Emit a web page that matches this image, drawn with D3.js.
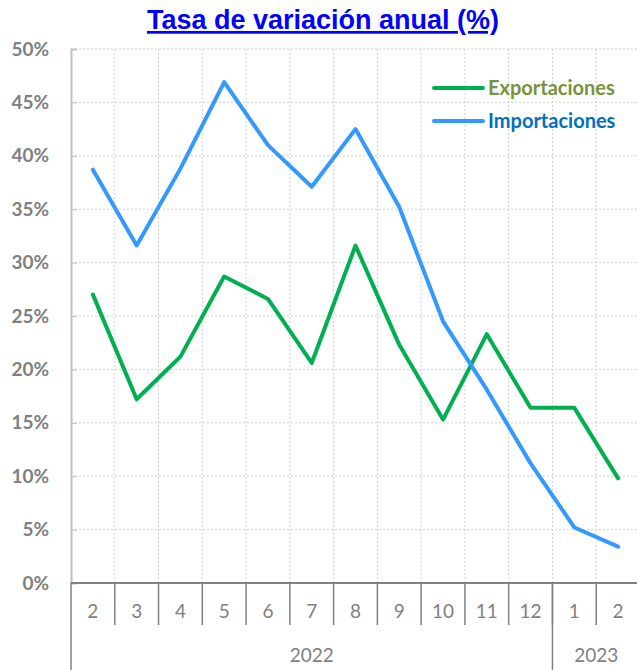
<!DOCTYPE html>
<html>
<head>
<meta charset="utf-8">
<script src="https://cdn.jsdelivr.net/npm/d3@7"></script>
<style>
  body { margin: 0; background: #fff; }
  svg { display: block; }
</style>
</head>
<body>
<div id="chart"></div>
<script>
// data
const months = ['2', '3', '4', '5', '6', '7', '8', '9', '10', '11', '12', '1', '2'];
const years = [{label: '2022', from: 0, to: 11}, {label: '2023', from: 11, to: 13}];
const exportaciones = [27.0, 17.2, 21.2, 28.7, 26.6, 20.6, 31.6, 22.3, 15.3, 23.3, 16.4, 16.4, 9.8];
const importaciones = [38.7, 31.6, 38.8, 46.9, 41.0, 37.1, 42.5, 35.2, 24.5, 18.1, 11.2, 5.2, 3.4];
const yTicks = [0, 5, 10, 15, 20, 25, 30, 35, 40, 45, 50];

const W = 637, H = 670;
const margin = {top: 49, right: -3, bottom: 87, left: 71};
const width = W - margin.left - margin.right,
      height = H - margin.top - margin.bottom;

const svg = d3.select('#chart').append('svg')
    .attr('width', W).attr('height', H);

const g = svg.append('g')
    .attr('transform', 'translate(' + margin.left + ',' + margin.top + ')');

const idx = d3.range(months.length);
const xScale = d3.scaleBand().domain(idx).range([0, width]).padding(0);
const yScale = d3.scaleLinear().domain([0, 50]).range([height, 0]);

// horizontal grid
g.selectAll('.hgrid').data(yTicks.slice(1)).join('line')
    .attr('x1', 0).attr('x2', width)
    .attr('y1', d => yScale(d)).attr('y2', d => yScale(d))
    .attr('stroke', '#d0d0d0').attr('stroke-dasharray', '2,2');

// vertical grid at band edges
g.selectAll('.vgrid').data(idx.slice(1)).join('line')
    .attr('x1', d => xScale(d)).attr('x2', d => xScale(d))
    .attr('y1', 0).attr('y2', height)
    .attr('stroke', '#d0d0d0').attr('stroke-dasharray', '2,2');

// y axis
const yAxis = d3.axisLeft(yScale).tickValues(yTicks).tickSize(-6).tickPadding(22)
    .tickFormat(d => d + '%');
const ya = g.append('g').call(yAxis);
ya.select('.domain').attr('stroke', '#bfbfbf').attr('stroke-width', 2);
ya.selectAll('.tick line').attr('stroke', '#bfbfbf');
ya.selectAll('text')
    .attr('fill', '#808080')
    .style('font', 'bold 19px Lato, "Open Sans", sans-serif');

// x axis line
g.append('line')
    .attr('x1', 0).attr('x2', width)
    .attr('y1', height).attr('y2', height)
    .attr('stroke', '#808080').attr('stroke-width', 2);

// month separators
g.selectAll('.msep').data(idx.slice(1)).join('line')
    .attr('x1', d => xScale(d)).attr('x2', d => xScale(d))
    .attr('y1', height).attr('y2', height + 42)
    .attr('stroke', '#808080').attr('stroke-width', 1.5);

// year separators
g.selectAll('.ysep').data(years.map(d => d.from)).join('line')
    .attr('x1', d => xScale(d)).attr('x2', d => xScale(d))
    .attr('y1', height).attr('y2', H - margin.top)
    .attr('stroke', '#808080').attr('stroke-width', 1.5);

// month labels
g.selectAll('.mlab').data(idx).join('text')
    .attr('x', d => xScale(d) + xScale.bandwidth() / 2)
    .attr('y', height + 35)
    .attr('text-anchor', 'middle')
    .attr('fill', '#808080')
    .style('font', '19px Lato, "Open Sans", sans-serif')
    .text(d => months[d]);

// year labels
g.selectAll('.ylab').data(years).join('text')
    .attr('x', d => (xScale(d.from) + (d.to < months.length ? xScale(d.to) : width)) / 2)
    .attr('y', height + 79)
    .attr('text-anchor', 'middle')
    .attr('fill', '#808080')
    .style('font', '19px Lato, "Open Sans", sans-serif')
    .text(d => d.label);

// lines
const line = d3.line()
    .x((d, i) => xScale(i) + xScale.bandwidth() / 2)
    .y(d => yScale(d));

const series = [
    {key: 'Exportaciones', values: exportaciones, color: '#00B050', text: '#77933C'},
    {key: 'Importaciones', values: importaciones, color: '#3399FF', text: '#0070C0'}
];

g.selectAll('.series').data(series).join('path')
    .attr('d', d => line(d.values))
    .attr('fill', 'none')
    .attr('stroke', d => d.color)
    .attr('stroke-width', 4)
    .attr('stroke-linejoin', 'round')
    .attr('stroke-linecap', 'round');

// legend
const legend = svg.append('g').attr('transform', 'translate(434,88)');
const li = legend.selectAll('g').data(series).join('g')
    .attr('transform', (d, i) => 'translate(0,' + i * 33 + ')');
li.append('line')
    .attr('x1', 0).attr('x2', 49).attr('y1', 0).attr('y2', 0)
    .attr('stroke', d => d.color).attr('stroke-width', 4).attr('stroke-linecap', 'round');
li.append('text')
    .attr('x', 54).attr('y', 7)
    .attr('fill', d => d.text)
    .style('font', 'bold 20px Lato, "Open Sans", sans-serif')
    .text(d => d.key);

// title
svg.append('text')
    .attr('x', 323).attr('y', 29)
    .attr('text-anchor', 'middle')
    .attr('fill', '#0000FF')
    .attr('text-decoration', 'underline')
    .style('font', 'bold 27px "Liberation Sans", Arial, sans-serif')
    .text('Tasa de variación anual (%)');
</script>
</body>
</html>
